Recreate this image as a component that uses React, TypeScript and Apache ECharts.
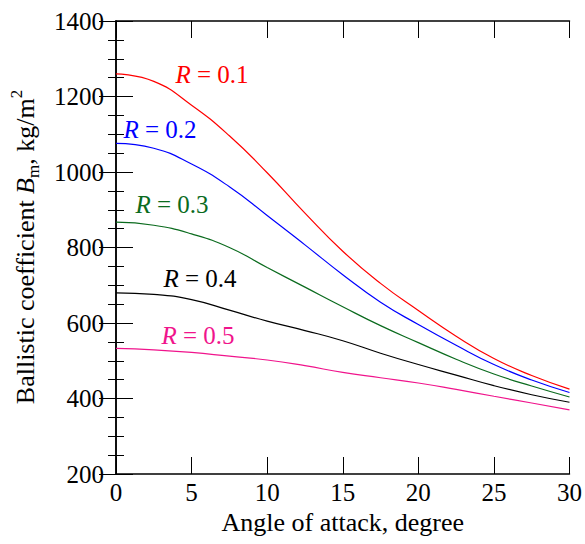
import React, { useEffect, useRef } from "react";
import * as echarts from "echarts";

const angles = [0, 2.5, 5, 7.5, 10, 12.5, 15, 17.5, 20, 22.5, 25, 27.5, 30];
const r01 = [1260, 1240, 1177, 1096, 998, 891, 790, 705, 633, 565, 506, 461, 425];
const r02 = [1076, 1063, 1021, 961, 885, 807, 728, 655, 596, 541, 490, 449, 416];
const r03 = [867, 859, 836, 800, 747, 695, 643, 593, 548, 504, 465, 433, 404];
const r04 = [680, 676, 662, 634, 605, 580, 553, 520, 490, 462, 434, 410, 390];
const r05 = [533, 529, 522, 512, 502, 487, 469, 455, 441, 424, 406, 388, 370];

const seriesNames = ["0.1", "0.2", "0.3", "0.4", "0.5"];
const seriesColors = ["#ff0000", "#0000ff", "#0b6b1e", "#000000", "#f0148c"];
const xTicks = [0, 5, 10, 15, 20, 25, 30];
const yTicks = [200, 400, 600, 800, 1000, 1200, 1400];

const FONT = "Liberation Serif";

export default function App() {
  const ref = useRef<HTMLDivElement>(null);
  useEffect(() => {
    if (!ref.current) return;
    const chart = echarts.init(ref.current, null, { renderer: "svg" });
    const all = [r01, r02, r03, r04, r05];
    const labelPos = [
      [212, 74],
      [160, 129],
      [172, 204],
      [200, 278],
      [198, 335],
    ];
    const axisCommon = {
      axisLine: { show: true, lineStyle: { color: "#000", width: 1.5 } },
      splitLine: { show: false },
    };
    const tick = { show: true, inside: true, length: 17, lineStyle: { color: "#000", width: 1 } };
    const minor = { show: true, splitNumber: 4, length: 8, lineStyle: { color: "#000", width: 1 } };
    chart.setOption({
      animation: false,
      grid: { left: 116, top: 21, right: 15, bottom: 70, containLabel: false },
      xAxis: [
        {
          type: "value",
          min: 0,
          max: 30,
          interval: 5,
          ...axisCommon,
          axisTick: tick,
          axisLabel: { fontFamily: FONT, fontSize: 25, color: "#000", margin: 6,
            formatter: (v: number) => (xTicks.includes(v) ? String(v) : "") },
          name: "Angle of attack, degree",
          nameLocation: "middle",
          nameGap: 34,
          nameTextStyle: { fontFamily: FONT, fontSize: 26, color: "#000", verticalAlign: "top" },
        },
        {
          type: "value",
          position: "top",
          min: 0,
          max: 30,
          interval: 5,
          ...axisCommon,
          axisTick: tick,
          axisLabel: { show: false },
        },
      ],
      yAxis: [
        {
          type: "value",
          min: 200,
          max: 1400,
          interval: 200,
          ...axisCommon,
          axisTick: tick,
          minorTick: minor,
          axisLabel: { fontFamily: FONT, fontSize: 25, color: "#000", margin: 12,
            formatter: (v: number) => (yTicks.includes(v) ? String(v) : "") },
        },
        {
          type: "value",
          position: "right",
          min: 200,
          max: 1400,
          interval: 200,
          ...axisCommon,
          axisTick: tick,
          minorTick: minor,
          axisLabel: { show: false },
        },
      ],
      series: all.map((vals, i) => ({
        name: "R = " + seriesNames[i],
        type: "line",
        xAxisIndex: 0,
        yAxisIndex: 0,
        data: angles.map((a, j) => [a, vals[j]]),
        smooth: 0.5,
        showSymbol: false,
        lineStyle: { color: seriesColors[i], width: 1.2 },
      })),
      graphic: [
        ...seriesNames.map((n, i) => ({
          type: "text",
          x: labelPos[i][0],
          y: labelPos[i][1],
          style: {
            text: "{r|R} = " + n,
            fill: seriesColors[i],
            font: `25px "${FONT}"`,
            align: "center",
            verticalAlign: "middle",
            rich: {
              r: { fontStyle: "italic", fontFamily: FONT, fontSize: 25, fill: seriesColors[i] },
            },
          },
        })),
        {
          type: "text",
          x: 25,
          y: 247,
          rotation: Math.PI / 2,
          style: {
            text: "Ballistic coefficient {b|B}{s|m}, kg/m{p|2}",
            fill: "#000",
            font: `26px "${FONT}"`,
            align: "center",
            verticalAlign: "middle",
            rich: {
              b: { fontStyle: "italic", fontFamily: FONT, fontSize: 26, lineHeight: 34, verticalAlign: "middle" },
              s: { fontFamily: FONT, fontSize: 17, lineHeight: 34, verticalAlign: "bottom" },
              p: { fontFamily: FONT, fontSize: 17, lineHeight: 34, verticalAlign: "top" },
            },
          },
        },
      ],
    });
    return () => chart.dispose();
  }, []);
  return <div ref={ref} style={{ width: 585, height: 544, position: "absolute", left: 0, top: 0 }} />;
}
